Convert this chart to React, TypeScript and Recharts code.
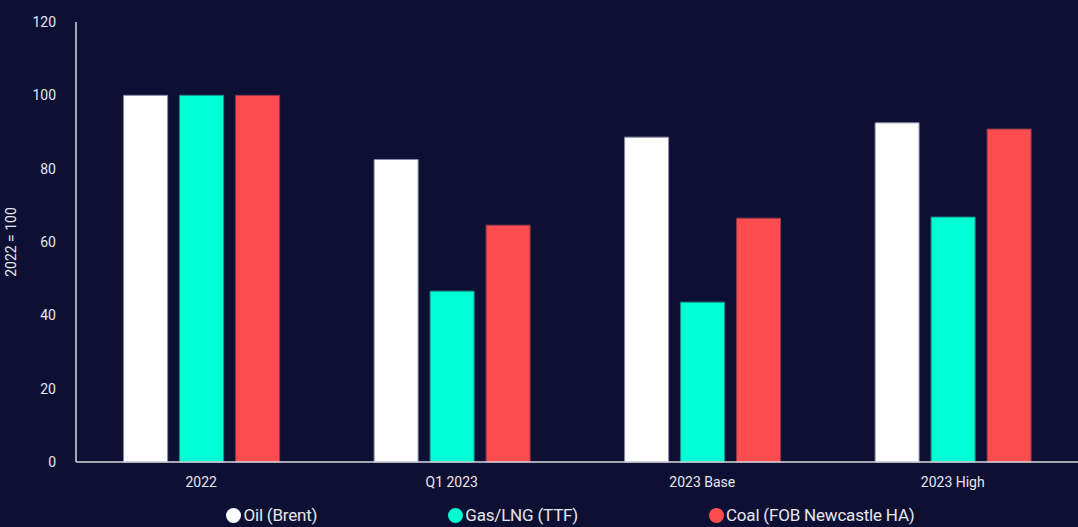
import React from "react";
import { BarChart, Bar, XAxis, YAxis, Legend, Label } from "recharts";

const categories = ["2022", "Q1 2023", "2023 Base", "2023 High"];
const oil = [100, 82.5, 88.6, 92.5];
const gas = [100, 46.6, 43.6, 66.8];
const coal = [100, 64.6, 66.5, 90.8];
const yTicks = [0, 20, 40, 60, 80, 100, 120];

const series = [
  { key: "oil", name: "Oil (Brent)", color: "#ffffff", stroke: "#8a8aa6" },
  { key: "gas", name: "Gas/LNG (TTF)", color: "#00ffd5", stroke: "#1a8f8a" },
  { key: "coal", name: "Coal (FOB Newcastle HA)", color: "#ff4d4f", stroke: "#8a3a4a" },
];

const data = categories.map((c, i) => ({
  name: c,
  oil: oil[i],
  gas: gas[i],
  coal: coal[i],
}));

const BG = "#0e1033";
const TEXT = "#e6e6ee";

function CustomLegend() {
  return (
    <div
      style={{
        display: "flex",
        justifyContent: "center",
        gap: 131,
        paddingTop: 3,
        paddingLeft: 62,
        fontFamily: "Roboto, sans-serif",
        fontSize: 17,
        letterSpacing: -0.2,
        color: TEXT,
      }}
    >
      {series.map((s) => (
        <div key={s.key} style={{ display: "flex", alignItems: "center", gap: 2 }}>
          <span
            style={{
              display: "inline-block",
              width: 15,
              height: 15,
              borderRadius: "50%",
              background: s.color,
            }}
          />
          <span>{s.name}</span>
        </div>
      ))}
    </div>
  );
}

export default function App() {
  return (
    <div
      style={{
        position: "fixed",
        top: 0,
        left: 0,
        width: 1078,
        height: 527,
        background: BG,
        fontFamily: "Roboto, sans-serif",
      }}
    >
      <BarChart
        width={1078}
        height={527}
        data={data}
        margin={{ top: 22, right: 0, bottom: 0, left: 1 }}
        barCategoryGap="19%"
        barGap={12}
      >
        <XAxis
          dataKey="name"
          axisLine={{ stroke: "#d8d8e0", strokeWidth: 1.5 }}
          tickLine={false}
          tick={{ fill: TEXT, fontSize: 14 }}
          tickMargin={9}
          height={40}
        />
        <YAxis
          domain={[0, 120]}
          ticks={yTicks}
          width={75}
          axisLine={{ stroke: "#d8d8e0", strokeWidth: 1.5 }}
          tickLine={false}
          tick={{ fill: TEXT, fontSize: 14 }}
          tickMargin={14}
        >
          <Label
            value="2022 = 100"
            angle={-90}
            position="insideLeft"
            offset={10}
            style={{ fill: TEXT, fontSize: 14, textAnchor: "middle" }}
          />
        </YAxis>
        <Legend verticalAlign="bottom" height={25} content={<CustomLegend />} />
        {series.map((s) => (
          <Bar
            key={s.key}
            dataKey={s.key}
            name={s.name}
            fill={s.color}
            stroke={s.stroke}
            strokeWidth={1}
            isAnimationActive={false}
          />
        ))}
      </BarChart>
    </div>
  );
}
